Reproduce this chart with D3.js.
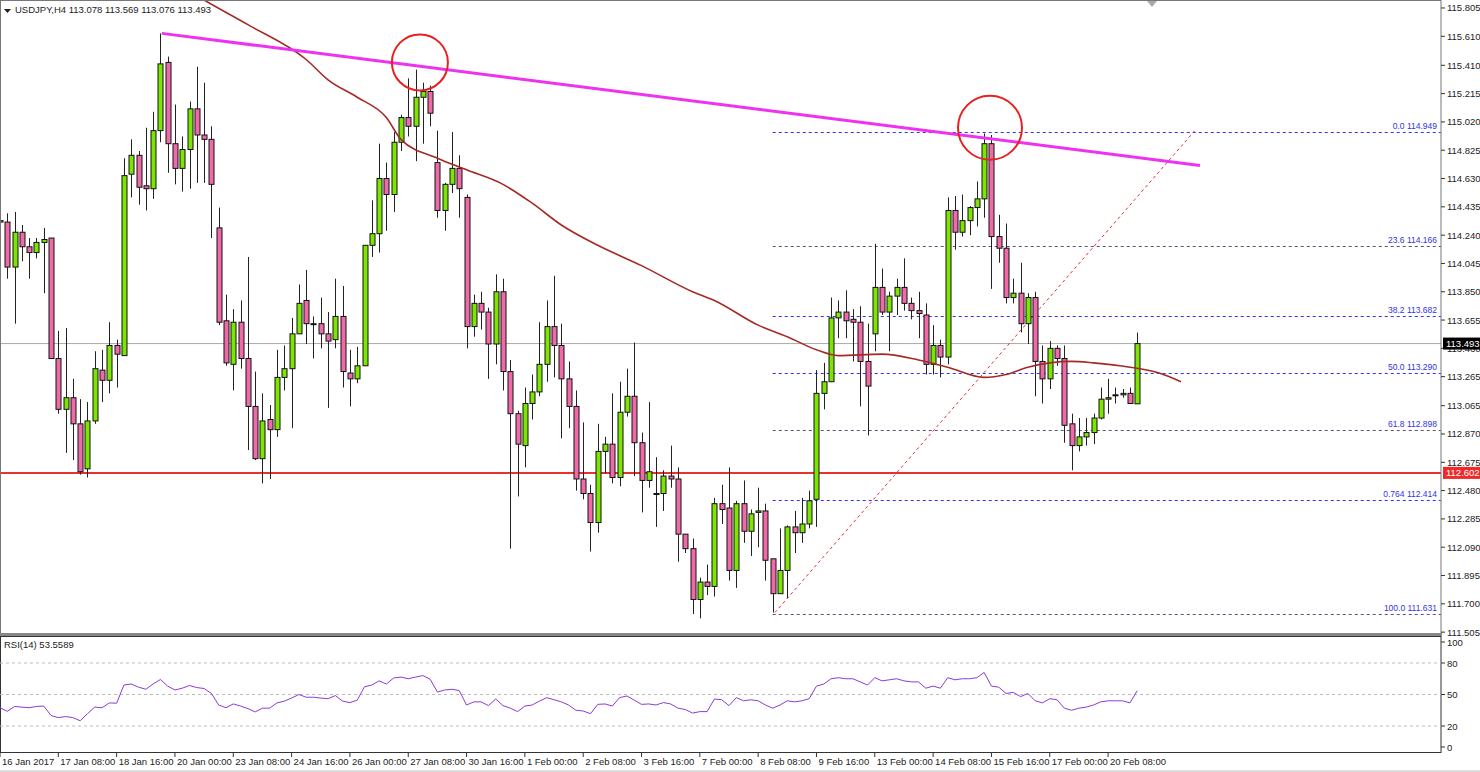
<!DOCTYPE html>
<html><head><meta charset="utf-8">
<script src="https://cdn.jsdelivr.net/npm/d3@7"></script>
<style>body{margin:0;background:#fff}svg{display:block}text{font-family:"Liberation Sans",Arial,sans-serif}</style>
</head><body><svg id="c" width="1480" height="772"></svg>
<script>
// candles: [open, high, low, close]
const candles = [
[114.34,114.48,114.10,114.33],[114.33,114.39,113.94,114.02],[114.02,114.40,113.63,114.26],[114.26,114.31,114.06,114.16],
[114.16,114.22,113.94,114.12],[114.12,114.22,114.08,114.19],[114.19,114.29,113.84,114.21],[114.22,114.22,113.39,113.39],
[113.39,113.58,113.01,113.04],[113.04,113.60,112.74,113.12],[113.12,113.25,112.69,112.94],[112.94,113.11,112.59,112.61],
[112.63,113.09,112.57,112.96],[112.96,113.44,112.94,113.32],[113.31,113.45,113.09,113.24],[113.24,113.64,113.15,113.48],
[113.48,113.52,113.19,113.42],[113.41,114.77,113.41,114.65],[114.66,114.90,114.50,114.79],[114.79,114.82,114.45,114.57],
[114.58,114.98,114.41,114.56],[114.56,115.09,114.49,114.96],[114.96,115.63,114.88,115.42],[115.43,115.47,114.67,114.87],
[114.87,115.14,114.59,114.70],[114.70,114.92,114.54,114.83],[114.83,115.16,114.56,115.11],[115.11,115.40,114.60,114.93],
[114.93,115.29,114.60,114.90],[114.90,114.99,114.22,114.59],[114.29,114.43,113.62,113.64],[113.65,113.83,113.34,113.36],
[113.35,113.73,113.17,113.64],[113.64,113.79,113.32,113.39],[113.39,114.09,112.76,113.06],[113.06,113.30,112.69,112.70],
[112.70,113.15,112.53,112.96],[112.97,113.07,112.56,112.90],[112.90,113.45,112.85,113.26],[113.26,113.48,113.17,113.32],
[113.32,113.67,112.91,113.56],[113.56,113.90,113.56,113.77],[113.79,114.00,113.49,113.63],[113.63,113.68,113.39,113.63],
[113.63,113.81,113.46,113.56],[113.56,113.71,113.05,113.51],[113.52,113.94,113.46,113.68],[113.68,113.89,113.19,113.30],
[113.29,113.45,113.06,113.25],[113.25,113.47,113.22,113.34],[113.34,114.17,113.34,114.17],[114.17,114.48,114.09,114.25],
[114.25,114.87,114.12,114.63],[114.63,114.74,114.27,114.52],[114.52,114.95,114.40,114.88],[114.88,115.07,114.82,115.05],
[115.05,115.32,114.92,114.99],[114.99,115.38,114.75,115.19],[115.19,115.29,114.87,115.23],[115.23,115.27,114.99,115.08],
[114.74,114.96,114.36,114.41],[114.41,114.60,114.27,114.59],[114.59,114.95,114.53,114.70],[114.70,114.79,114.36,114.56],
[114.50,114.52,113.46,113.61],[113.61,113.83,113.54,113.77],[113.77,113.85,113.59,113.71],[113.71,113.74,113.25,113.49],
[113.49,113.97,113.35,113.85],[113.85,113.94,113.17,113.30],[113.30,113.38,112.08,113.01],[113.01,113.03,112.44,112.80],
[112.79,113.19,112.64,113.08],[113.08,113.28,112.97,113.16],[113.16,113.64,113.13,113.35],[113.35,113.79,113.23,113.61],
[113.61,113.96,113.26,113.48],[113.48,113.63,112.84,113.25],[113.25,113.37,112.91,113.06],[113.06,113.17,112.48,112.56],
[112.56,112.95,112.42,112.46],[112.46,112.52,112.06,112.26],[112.26,112.94,112.19,112.75],[112.75,112.85,112.60,112.80],
[112.80,113.15,112.53,112.57],[112.57,113.23,112.51,113.02],[113.02,113.32,112.99,113.13],[113.13,113.50,112.58,112.81],
[112.81,112.88,112.33,112.55],[112.55,113.09,112.50,112.61],[112.46,112.71,112.23,112.46],[112.46,112.62,112.34,112.58],
[112.58,112.79,112.50,112.56],[112.56,112.64,111.99,112.18],[112.18,112.18,112.05,112.08],[112.08,112.15,111.63,111.73],
[111.73,111.88,111.60,111.85],[111.85,111.97,111.76,111.82],[111.82,112.43,111.75,112.39],[112.39,112.52,112.25,112.35],
[112.36,112.64,111.86,111.93],[111.93,112.41,111.81,112.39],[112.39,112.55,112.12,112.20],[112.20,112.35,112.03,112.32],
[112.33,112.50,112.09,112.34],[112.34,112.39,111.86,112.00],[112.01,112.01,111.64,111.77],[111.77,112.22,111.77,111.93],
[111.93,112.24,111.74,112.23],[112.23,112.34,112.05,112.19],[112.19,112.43,112.12,112.25],[112.25,112.48,112.22,112.41],
[112.42,113.31,112.23,113.15],[113.15,113.36,113.04,113.23],[113.23,113.81,113.23,113.67],[113.67,113.79,113.53,113.71],
[113.71,113.86,113.53,113.65],[113.66,113.73,113.37,113.64],[113.64,113.75,113.06,113.37],[113.37,113.63,112.86,113.20],
[113.56,114.18,113.44,113.88],[113.88,114.01,113.69,113.71],[113.71,113.85,113.44,113.82],[113.82,113.94,113.69,113.88],
[113.88,114.08,113.72,113.77],[113.77,113.81,113.66,113.72],[113.72,113.85,113.53,113.70],[113.69,113.77,113.28,113.35],
[113.35,113.62,113.28,113.48],[113.48,113.52,113.26,113.40],[113.40,114.50,113.35,114.41],[114.41,114.51,114.14,114.26],
[114.26,114.52,114.23,114.34],[114.34,114.44,114.24,114.43],[114.43,114.61,114.30,114.49],[114.49,114.94,114.36,114.87],
[114.87,114.93,113.87,114.23],[114.23,114.38,114.05,114.15],[114.15,114.32,113.77,113.81],[113.81,113.94,113.77,113.84],
[113.84,114.05,113.57,113.63],[113.63,113.84,113.49,113.81],[113.81,113.85,113.13,113.37],[113.37,113.48,113.08,113.25],
[113.25,113.51,113.18,113.46],[113.46,113.48,113.34,113.39],[113.39,113.48,112.81,112.93],[112.94,113.01,112.62,112.79],
[112.79,112.98,112.75,112.85],[112.85,112.98,112.79,112.88],[112.88,113.01,112.80,112.98],[112.98,113.19,112.97,113.11],
[113.11,113.25,113.01,113.12],[113.14,113.19,113.08,113.14],[113.14,113.18,113.12,113.15],[113.15,113.19,113.08,113.08],
[113.078,113.569,113.076,113.493]];
const maKnots = [[26,115.92],[28,115.86],[34,115.69],[42,115.45],[45,115.31],[49,115.19],[53,115.05],[55,114.90],[60,114.77],[64,114.69],[69,114.59],[73,114.46],[77,114.31],[82,114.17],[88,114.03],[95,113.85],[98,113.79],[104,113.62],[108,113.54],[112,113.45],[115,113.41],[121,113.42],[126,113.38],[130,113.33],[135,113.26],[138,113.28],[141,113.33],[147,113.37],[150,113.36],[155,113.33],[159,113.29],[162,113.23]];
const rsi = [37.4,34,38.6,38,37.4,38.6,39,30,28,29,28,25,31.7,38,37.4,42,41.7,59,60,57,55,60,64.3,58,54.3,56,58.6,56.6,55.7,51,40,37.4,41,39,36.6,33.4,37,37,42,43.7,46.6,50,47.4,47.4,46.6,46,49,43.7,42.3,44.6,57.4,59,63,60,65.7,66.6,65,66.6,68,64.6,52.3,54.3,55,53.7,40,43,43,39.4,45.7,39.4,37,33.7,39,40,43.7,47,45,43,40,35,34.3,31.7,40.6,41,39,47,48.6,44.6,40.6,41,40,42.3,41,37,35.7,32.3,33.7,33.7,45.7,45,39.4,47,44,45,44,40,37,40,44,43,44,46,58,60,65,66,65,65,62,59,66,63,64,65,63,62,62,56,58,56,66,64,65,65,66,71,58,57,51,52,48,51,44,42,46,45,37,35,37,38,40,43,44,44,44,42,53.6];
const priceTicks = [115.805,115.610,115.410,115.215,115.020,114.825,114.630,114.435,114.240,114.045,113.850,113.655,113.460,113.265,113.065,112.870,112.675,112.480,112.285,112.090,111.895,111.700,111.505];
const timeLabels = ["16 Jan 2017","17 Jan 08:00","18 Jan 16:00","20 Jan 00:00","23 Jan 08:00","24 Jan 16:00","26 Jan 00:00","27 Jan 08:00","30 Jan 16:00","1 Feb 00:00","2 Feb 08:00","3 Feb 16:00","7 Feb 00:00","8 Feb 08:00","9 Feb 16:00","13 Feb 00:00","14 Feb 08:00","15 Feb 16:00","17 Feb 00:00","20 Feb 08:00"];
const fibLevels = ["0.0","23.6","38.2","50.0","61.8","0.764","100.0"];
const fibPrices = [114.949,114.166,113.682,113.290,112.898,112.414,111.631];
const rsiLevels = [80,50,20];
const rsiTicks = [100,80,50,20,0];
const trend = [[22.2,115.63],[164.6,114.72]];
const fibDiag = [[106.3,111.64],[163.9,114.96]];
const circles = [[57.6,115.43,28],[135.8,114.98,32]];
const support = 112.602, lastPrice = 113.493;

const svg = d3.select("#c");
const W = 1441;
const x = d3.scaleLinear().domain([0, W/7.29]).range([0, W]);
const y = d3.scaleLinear().domain([115.86, 111.499]).range([0, 633]);
const yr = d3.scaleLinear().domain([0,100]).range([747,642]);

svg.append("clipPath").attr("id","mc").append("rect").attr("x",0).attr("y",0).attr("width",W).attr("height",633);
svg.append("clipPath").attr("id","rc").append("rect").attr("x",0).attr("y",636).attr("width",W).attr("height",118);
const g = svg.append("g").attr("clip-path","url(#mc)");

// horizontal lines
g.append("line").attr("x1",0).attr("x2",W).attr("y1",y(lastPrice)).attr("y2",y(lastPrice)).attr("stroke","#aaa").attr("stroke-width",1);
// fib
const fibStart = x(106);
fibPrices.forEach((p,i)=>{
  g.append("line").attr("x1",fibStart).attr("x2",W).attr("y1",Math.round(y(p))+0.5).attr("y2",Math.round(y(p))+0.5)
   .attr("stroke", (i==1||i==4||i==6)?"#555577":"#3333ee").attr("stroke-dasharray","3,3").attr("stroke-width",1);
  g.append("text").attr("x",1437).attr("y",y(p)-3).attr("text-anchor","end").attr("font-size",8.5).attr("fill","#3333dd")
   .text(fibLevels[i]+" "+p.toFixed(3));
});
g.append("line").attr("x1",x(fibDiag[0][0])).attr("y1",y(fibDiag[0][1])).attr("x2",x(fibDiag[1][0])).attr("y2",y(fibDiag[1][1]))
 .attr("stroke","#e03030").attr("stroke-dasharray","3,3").attr("stroke-width",1);
g.append("line").attr("x1",0).attr("x2",W).attr("y1",y(support)).attr("y2",y(support)).attr("stroke","#e8322f").attr("stroke-width",2);

// candles
const cw = 5;
candles.forEach((c,i)=>{
  const [o,h,l,cl]=c, cx=Math.round(x(i))+0.5;
  g.append("line").attr("x1",cx).attr("x2",cx).attr("y1",y(h)).attr("y2",y(l)).attr("stroke","#222").attr("stroke-width",1);
  const top=Math.min(y(o),y(cl)), bh=Math.max(1,Math.abs(y(o)-y(cl)));
  g.append("rect").attr("x",cx-cw/2).attr("y",top).attr("width",cw).attr("height",bh)
   .attr("fill", cl>=o?"#7ce600":"#f06aa9").attr("stroke","#111").attr("stroke-width",1);
});
// MA
g.append("path").datum(maKnots).attr("fill","none").attr("stroke","#a42a25").attr("stroke-width",1.6)
 .attr("d",d3.line().x(d=>x(d[0])).y(d=>y(d[1])).curve(d3.curveMonotoneX));
// trendline
g.append("line").attr("x1",x(trend[0][0])).attr("y1",y(trend[0][1])).attr("x2",x(trend[1][0])).attr("y2",y(trend[1][1]))
 .attr("stroke","#ee33ee").attr("stroke-width",3);
circles.forEach(c=>g.append("circle").attr("cx",x(c[0])).attr("cy",y(c[1])).attr("r",c[2]).attr("fill","none").attr("stroke","#e82020").attr("stroke-width",2));

// frames
svg.append("rect").attr("x",0.5).attr("y",0.5).attr("width",W-0.5).attr("height",633).attr("fill","none").attr("stroke","#777");
svg.append("rect").attr("x",0).attr("y",633).attr("width",W+1).attr("height",3).attr("fill","#888");
svg.append("rect").attr("x",0.5).attr("y",636.5).attr("width",W-0.5).attr("height",116).attr("fill","none").attr("stroke","#333");
svg.append("path").attr("d","M1147,1 L1157,1 L1152,7 Z").attr("fill","#aaa");

// price axis
priceTicks.forEach(p=>{
  svg.append("line").attr("x1",W).attr("x2",W+4).attr("y1",y(p)).attr("y2",y(p)).attr("stroke","#333");
  svg.append("text").attr("x",W+6).attr("y",y(p)+3.5).attr("font-size",9.5).attr("fill","#222").text(p.toFixed(3));
});
svg.append("rect").attr("x",W+2).attr("y",y(lastPrice)-6).attr("width",37).attr("height",12).attr("fill","#000");
svg.append("text").attr("x",W+5).attr("y",y(lastPrice)+3.5).attr("font-size",9.5).attr("fill","#fff").text(lastPrice.toFixed(3));
svg.append("rect").attr("x",W+2).attr("y",y(support)-6).attr("width",37).attr("height",12).attr("fill","#ee2a2a");
svg.append("text").attr("x",W+5).attr("y",y(support)+3.5).attr("font-size",9.5).attr("fill","#fff").text(support.toFixed(3));

// RSI
const rg = svg.append("g").attr("clip-path","url(#rc)");
rsiLevels.forEach(v=>rg.append("line").attr("x1",0).attr("x2",W).attr("y1",yr(v)).attr("y2",yr(v)).attr("stroke","#bbb").attr("stroke-dasharray","3,3"));
rg.append("path").datum(rsi).attr("fill","none").attr("stroke","#8a3cd6").attr("stroke-width",1)
 .attr("d",d3.line().x((d,i)=>x(i)).y(d=>yr(d)));
rsiTicks.forEach(v=>{
  svg.append("line").attr("x1",W).attr("x2",W+4).attr("y1",yr(v)).attr("y2",yr(v)).attr("stroke","#333");
  svg.append("text").attr("x",W+6).attr("y",yr(v)+3.5).attr("font-size",9.5).attr("fill","#222").text(v);
});
svg.append("text").attr("x",4).attr("y",648).attr("font-size",9.5).attr("fill","#222").text("RSI(14) 53.5589");

// time axis
timeLabels.forEach((t,i)=>{
  const xx = x(i*8);
  svg.append("line").attr("x1",xx).attr("x2",xx).attr("y1",753).attr("y2",757).attr("stroke","#333");
  svg.append("text").attr("x",xx+2).attr("y",765).attr("font-size",9.5).attr("fill","#222").text(t);
});
svg.append("rect").attr("x",0).attr("y",770).attr("width",1480).attr("height",2).attr("fill","#ddd");

// header
svg.append("path").attr("d","M4,9 L11,9 L7.5,13 Z").attr("fill","#222");
svg.append("text").attr("x",15).attr("y",13).attr("font-size",9.5).attr("fill","#222").text("USDJPY,H4  113.078 113.569 113.076 113.493");
</script></body></html>
